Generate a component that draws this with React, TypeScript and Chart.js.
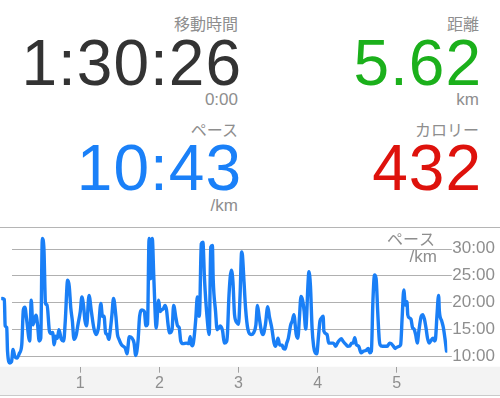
import React, { useEffect, useRef } from "react";
import { Chart, registerables } from "chart.js";

Chart.register(...registerables);

const distanceKm = [
  0.01, 0.04, 0.05, 0.07, 0.08, 0.11, 0.13, 0.15, 0.17, 0.2, 0.23, 0.26, 0.28, 0.3, 0.32, 0.36, 0.38, 0.4, 0.42, 0.44,
  0.46, 0.48, 0.5, 0.52, 0.54, 0.56, 0.58, 0.61, 0.63, 0.65, 0.67, 0.69, 0.71, 0.73, 0.76, 0.79, 0.81, 0.84, 0.86, 0.88,
  0.9, 0.92, 0.95, 0.97, 1.0, 1.02, 1.04, 1.06, 1.08, 1.11, 1.14, 1.17, 1.2, 1.23, 1.26, 1.28, 1.3, 1.32, 1.34, 1.36,
  1.38, 1.4, 1.42, 1.45, 1.47, 1.49, 1.52, 1.57, 1.59, 1.62, 1.65, 1.68, 1.7, 1.73, 1.75, 1.78, 1.81, 1.83, 1.85, 1.87,
  1.89, 1.91, 1.93, 1.96, 1.99, 2.01, 2.03, 2.05, 2.07, 2.09, 2.11, 2.13, 2.16, 2.18, 2.21, 2.23, 2.25, 2.27, 2.3, 2.34,
  2.37, 2.39, 2.4, 2.42, 2.44, 2.46, 2.48, 2.5, 2.51, 2.53, 2.55, 2.57, 2.6, 2.63, 2.65, 2.67, 2.68, 2.71, 2.73, 2.75,
  2.77, 2.8, 2.82, 2.85, 2.86, 2.88, 2.91, 2.93, 2.95, 2.98, 3.0, 3.02, 3.04, 3.05, 3.07, 3.09, 3.12, 3.16, 3.19, 3.22,
  3.24, 3.26, 3.29, 3.31, 3.34, 3.37, 3.39, 3.42, 3.45, 3.47, 3.5, 3.52, 3.55, 3.57, 3.59, 3.61, 3.63, 3.66, 3.68, 3.7,
  3.73, 3.75, 3.77, 3.79, 3.81, 3.83, 3.85, 3.88, 3.89, 3.91, 3.93, 3.95, 3.97, 3.99, 4.01, 4.03, 4.05, 4.07, 4.08, 4.12,
  4.14, 4.17, 4.2, 4.23, 4.25, 4.28, 4.3, 4.32, 4.36, 4.38, 4.41, 4.43, 4.45, 4.47, 4.49, 4.52, 4.55, 4.58, 4.61, 4.64,
  4.66, 4.68, 4.7, 4.72, 4.74, 4.76, 4.78, 4.79, 4.82, 4.85, 4.88, 4.91, 4.93, 4.96, 4.98, 5.0, 5.03, 5.05, 5.07, 5.09,
  5.11, 5.13, 5.14, 5.16, 5.18, 5.2, 5.22, 5.24, 5.26, 5.28, 5.31, 5.33, 5.35, 5.37, 5.39, 5.41, 5.43, 5.46, 5.48, 5.49,
  5.51, 5.53, 5.54, 5.57, 5.59, 5.61, 5.63,
];

const paceMin = [
  20.7, 20.5, 15.6, 15.3, 10.9, 8.7, 8.9, 11.2, 10.0, 9.6, 10.5, 12.1, 18.6, 19.1, 17.0, 12.8, 20.4, 15.8, 16.7, 17.6,
  15.8, 12.8, 13.3, 31.9, 30.0, 19.8, 19.5, 14.6, 14.2, 14.4, 12.1, 13.7, 13.3, 14.9, 13.1, 12.8, 16.5, 24.1, 23.0, 18.9,
  16.5, 13.1, 14.0, 15.8, 18.3, 21.0, 19.5, 16.5, 15.6, 21.3, 18.3, 15.3, 14.0, 15.3, 19.8, 17.4, 17.4, 14.3, 14.0, 13.1,
  14.9, 17.7, 20.7, 17.4, 14.0, 13.1, 12.1, 11.4, 10.4, 13.6, 13.4, 12.4, 10.1, 12.8, 17.4, 18.6, 18.3, 15.6, 15.9, 31.9,
  24.4, 31.9, 24.4, 15.2, 20.4, 18.3, 18.6, 18.8, 19.4, 18.6, 15.8, 14.3, 14.9, 19.4, 17.0, 15.6, 15.3, 12.8, 12.3, 12.4,
  12.3, 13.6, 12.4, 11.9, 13.6, 16.9, 21.0, 17.4, 18.6, 30.9, 31.2, 24.4, 17.7, 14.0, 30.3, 30.6, 24.4, 18.3, 14.9, 15.2,
  15.6, 14.6, 12.4, 12.7, 14.0, 21.3, 26.0, 23.8, 17.7, 16.2, 15.9, 21.3, 29.4, 28.8, 23.8, 18.8, 14.9, 14.0, 14.3, 15.8,
  19.4, 17.4, 14.6, 14.0, 15.8, 19.2, 17.4, 15.3, 12.4, 11.8, 13.3, 12.1, 12.0, 11.4, 11.3, 12.4, 13.3, 15.8, 16.5, 17.7,
  14.0, 13.3, 17.0, 21.1, 20.4, 18.3, 15.0, 23.8, 25.7, 23.0, 15.3, 11.8, 10.6, 10.4, 13.4, 16.5, 17.1, 17.4, 14.6, 14.0,
  12.4, 12.4, 12.4, 11.8, 12.4, 13.0, 13.2, 12.8, 12.1, 11.8, 11.9, 12.4, 12.4, 13.4, 12.1, 11.8, 10.6, 10.9, 11.0, 11.4,
  10.6, 10.9, 20.4, 25.1, 24.4, 18.3, 13.0, 12.1, 11.8, 11.8, 11.8, 12.4, 12.3, 11.8, 11.4, 11.6, 11.8, 12.1, 17.4, 22.3,
  19.5, 20.1, 17.7, 17.1, 16.9, 15.3, 15.0, 14.0, 12.4, 14.6, 17.4, 17.7, 16.9, 15.3, 13.3, 12.4, 12.8, 13.3, 12.8, 13.1,
  17.7, 21.3, 18.3, 16.5, 15.3, 13.3, 10.9,
];

const xTickValues = [1, 2, 3, 4, 5];
const yTickValues = [10, 15, 20, 25, 30];
const yTickLabels = ["10:00", "15:00", "20:00", "25:00", "30:00"];
const chartTitle = ["ペース", "/km"];

const stats = [
  { label: "移動時間", value: "1:30:26", sub: "0:00", color: "#333333" },
  { label: "距離", value: "5.62", sub: "km", color: "#1bb01b" },
  { label: "ペース", value: "10:43", sub: "/km", color: "#1a80f8" },
  { label: "カロリー", value: "432", sub: "", color: "#de120c" },
];

const NUM_FONT = "'Liberation Sans', Arial, sans-serif";
const CJK_FONT = "'Noto Sans CJK JP', 'Liberation Sans', sans-serif";
const GRAY = "#8e8e8e";

function Txt(props: { text: string; cy: number; right: number; size: number; color: string; font: string; spacing?: number }) {
  const { text, cy, right, size, color, font, spacing } = props;
  return (
    <div
      style={{
        position: "absolute",
        right: 500 - right,
        top: cy - size / 2,
        height: size,
        lineHeight: size + "px",
        fontSize: size,
        fontFamily: font,
        color,
        whiteSpace: "nowrap",
        textAlign: "right",
        letterSpacing: spacing ? spacing + "px" : undefined,
      }}
    >
      {text}
    </div>
  );
}

const decorPlugin = {
  id: "decor",
  beforeDraw(chart: any) {
    const { ctx, chartArea, width } = chart;
    ctx.save();
    ctx.fillStyle = "#f3f3f3";
    ctx.fillRect(0, chartArea.bottom, width, 28.3);
    ctx.fillStyle = "#cacaca";
    ctx.fillRect(0, chartArea.bottom + 28.3, width, 1);
    ctx.fillStyle = "#b5b5b5";
    ctx.fillRect(0, 1, width, 1);
    const ys = chart.scales.y;
    ctx.strokeStyle = "#b0b0b0";
    ctx.lineWidth = 1;
    for (const v of yTickValues) {
      const py = Math.round(ys.getPixelForValue(v)) + 0.5;
      ctx.beginPath();
      ctx.moveTo(12, py);
      ctx.lineTo(chartArea.right + 4.5, py);
      ctx.stroke();
    }
    ctx.fillStyle = GRAY;
    ctx.textAlign = "right";
    ctx.textBaseline = "middle";
    ctx.font = "16px " + CJK_FONT;
    ctx.fillText(chartTitle[0], 435, 13);
    ctx.font = "17px " + NUM_FONT;
    ctx.fillText(chartTitle[1], 437, 31);
    ctx.restore();
  },
};

export default function App() {
  const ref = useRef<HTMLCanvasElement | null>(null);

  useEffect(() => {
    if (!ref.current) return;
    const points = distanceKm.map((d, i) => ({ x: d, y: paceMin[i] }));
    const chart = new Chart(ref.current, {
      type: "line",
      data: {
        datasets: [
          {
            data: points,
            borderColor: "#1a7ff6",
            borderWidth: 3.4,
            pointRadius: 0,
            fill: false,
            cubicInterpolationMode: "monotone",
            borderJoinStyle: "round",
            borderCapStyle: "round",
          },
        ],
      },
      options: {
        animation: false,
        responsive: false,
        devicePixelRatio: 1,
        layout: { autoPadding: false, padding: { left: 1.2, top: 1.2, right: 0, bottom: 0 } },
        plugins: { legend: { display: false }, tooltip: { enabled: false } },
        scales: {
          x: {
            type: "linear",
            min: 0,
            max: 5.64,
            afterBuildTicks: (s: any) => {
              s.ticks = xTickValues.map((v) => ({ value: v }));
            },
            afterFit: (s: any) => {
              s.height = 31.3;
              s.paddingLeft = 0;
              s.paddingRight = 0;
            },
            grid: { drawOnChartArea: false, drawTicks: true, tickLength: 6, color: "#a0a0a0", lineWidth: 1 },
            border: { display: false },
            ticks: {
              color: GRAY,
              font: { size: 16, family: NUM_FONT },
              padding: 1,
              maxRotation: 0,
              autoSkip: false,
              callback: (v: any) => String(v),
            },
          },
          y: {
            position: "right",
            min: 8,
            max: 34,
            afterBuildTicks: (s: any) => {
              s.ticks = yTickValues.map((v) => ({ value: v }));
            },
            afterFit: (s: any) => {
              s.width = 52.7;
              s.paddingTop = 0;
              s.paddingBottom = 0;
            },
            grid: { display: false, drawTicks: false },
            border: { display: false },
            ticks: {
              color: GRAY,
              font: { size: 17, family: NUM_FONT },
              padding: 5,
              autoSkip: false,
              callback: (_v: any, i: number) => yTickLabels[i],
            },
          },
        },
      },
      plugins: [decorPlugin],
    } as any);
    return () => chart.destroy();
  }, []);

  return (
    <div style={{ position: "absolute", left: 0, top: 0, width: 500, height: 398, background: "#fff", overflow: "hidden" }}>
      <Txt text={stats[0].label} cy={23} right={238} size={16} color={GRAY} font={CJK_FONT} />
      <Txt text={stats[0].value} cy={62.5} right={242} size={64} color={stats[0].color} font={NUM_FONT} spacing={1} />
      <Txt text={stats[0].sub} cy={99} right={238} size={17} color={GRAY} font={NUM_FONT} />

      <Txt text={stats[1].label} cy={23} right={479} size={16} color={GRAY} font={CJK_FONT} />
      <Txt text={stats[1].value} cy={62.5} right={482} size={64} color={stats[1].color} font={NUM_FONT} spacing={1} />
      <Txt text={stats[1].sub} cy={99} right={479} size={17} color={GRAY} font={NUM_FONT} />

      <Txt text={stats[2].label} cy={129} right={238} size={16} color={GRAY} font={CJK_FONT} />
      <Txt text={stats[2].value} cy={168.3} right={242} size={64} color={stats[2].color} font={NUM_FONT} spacing={1} />
      <Txt text={stats[2].sub} cy={205} right={238} size={17} color={GRAY} font={NUM_FONT} />

      <Txt text={stats[3].label} cy={129} right={479} size={16} color={GRAY} font={CJK_FONT} />
      <Txt text={stats[3].value} cy={168.3} right={482} size={64} color={stats[3].color} font={NUM_FONT} spacing={1} />

      <div style={{ position: "absolute", left: 0, top: 226, width: 500, height: 172 }}>
        <canvas ref={ref} width={500} height={172} style={{ display: "block", width: 500, height: 172 }} />
      </div>
    </div>
  );
}
